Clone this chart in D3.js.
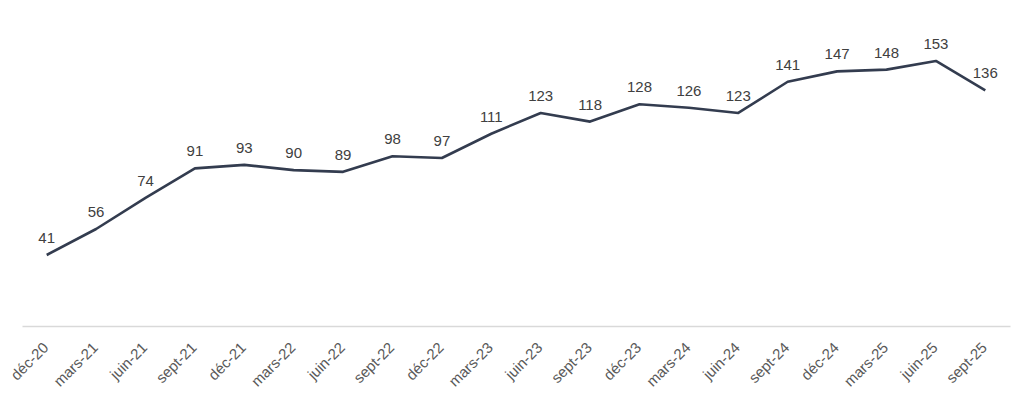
<!DOCTYPE html>
<html>
<head>
<meta charset="utf-8">
<script src="https://cdn.jsdelivr.net/npm/d3@7"></script>
<style>
body{margin:0;background:#fff;}
text{font-family:"Liberation Sans",Arial,sans-serif;}
</style>
</head>
<body>
<div id="main_div"></div>
<script>
let categories=["déc-20","mars-21","juin-21","sept-21","déc-21","mars-22","juin-22","sept-22","déc-22","mars-23","juin-23","sept-23","déc-23","mars-24","juin-24","sept-24","déc-24","mars-25","juin-25","sept-25"];
let values=[41,56,74,91,93,90,89,98,97,111,123,118,128,126,123,141,147,148,153,136];

let size=[1024,395];
let svg=d3.select("#main_div")
    .append("svg")
    .attr("width",size[0])
    .attr("height",size[1])
    .attr("id","main_svg");

let xScale=d3.scaleBand()
    .domain(categories)
    .range([22,1010]);

let yScale=d3.scaleLinear()
    .domain([0,180])
    .range([326,14.2]);

/**x axis */
let xAxis=d3.axisBottom(xScale).tickSize(0).tickSizeOuter(0);
let x_container=svg.append("g")
    .attr("transform","translate(0,326)")
    .call(xAxis);
x_container.select(".domain").attr("stroke","#d9d9d9").attr("stroke-width",1.3);
x_container.selectAll("text")
    .attr("fill","#595959")
    .style("font-size","15px")
    .style("font-family","Liberation Sans, Arial, sans-serif")
    .attr("text-anchor","end")
    .attr("y",0)
    .attr("dy","0.35em")
    .attr("transform","translate(-1,19) rotate(-45)");

/**line */
let line=d3.line()
    .x(function(d,i){return xScale(categories[i])+xScale.bandwidth()/2})
    .y(function(d){return yScale(d)});

svg.append("path")
    .datum(values)
    .attr("d",line)
    .attr("fill","none")
    .attr("stroke","#333c4f")
    .attr("stroke-width",2.6)
    .attr("stroke-linejoin","round");

/**data labels */
svg.append("g").selectAll("text")
    .data(values)
    .enter()
    .append("text")
    .attr("x",function(d,i){return xScale(categories[i])+xScale.bandwidth()/2})
    .attr("y",function(d){return yScale(d)-12})
    .attr("text-anchor","middle")
    .attr("fill","#404040")
    .style("font-size","15px")
    .text(function(d){return d});
</script>
</body>
</html>
